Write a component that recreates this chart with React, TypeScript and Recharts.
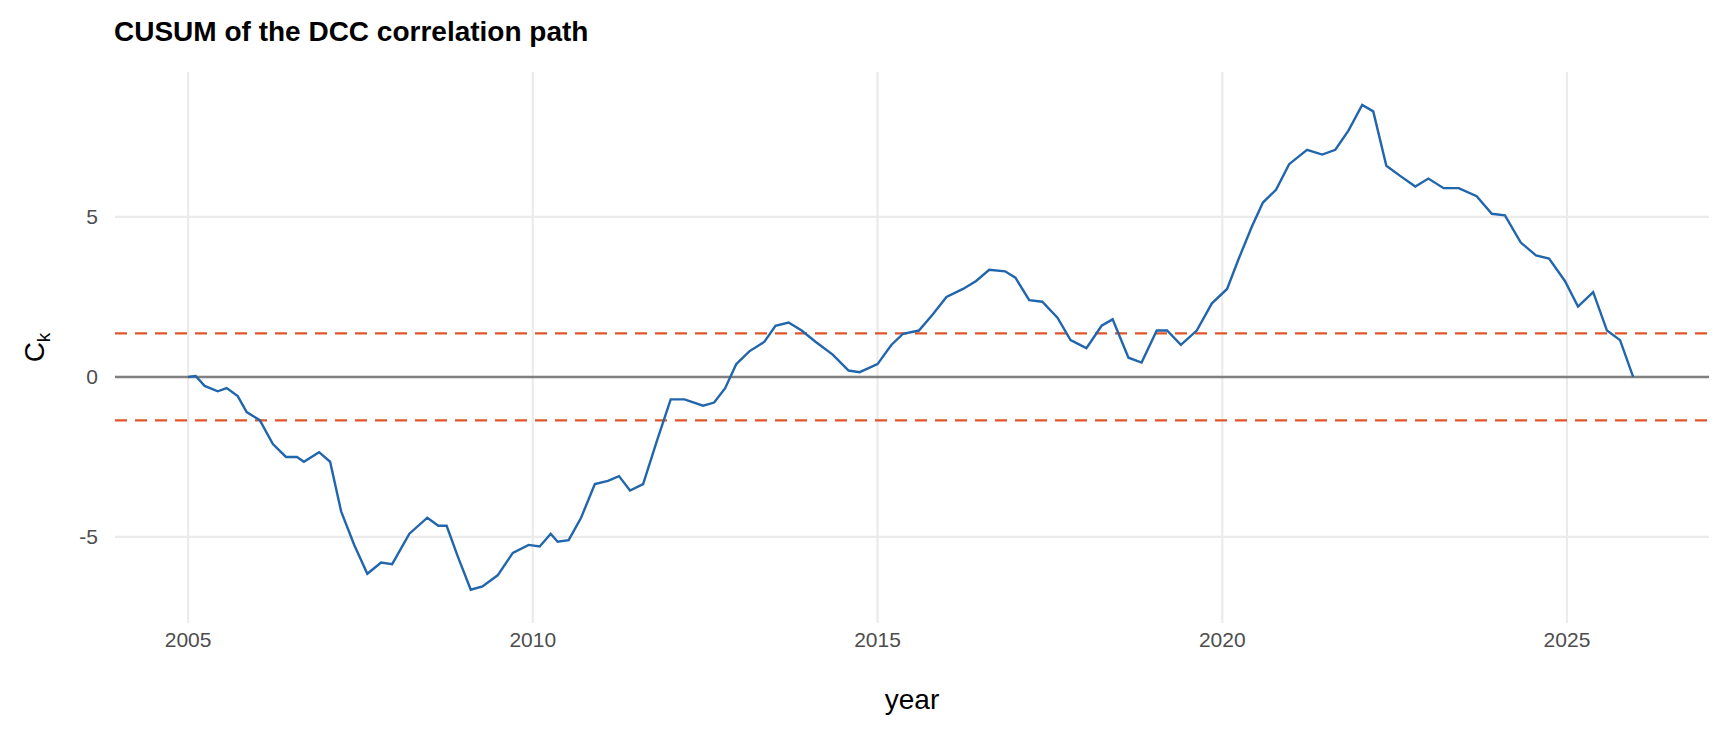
import React from "react";
import { LineChart, Line, XAxis, YAxis, CartesianGrid, ReferenceLine } from "recharts";

const years = [2005.0,2005.11,2005.24,2005.43,2005.56,2005.72,2005.85,2006.04,2006.23,2006.42,2006.58,2006.68,2006.9,2007.06,2007.22,2007.41,2007.6,2007.8,2007.96,2008.21,2008.47,2008.63,2008.75,2008.91,2009.1,2009.27,2009.49,2009.71,2009.94,2010.1,2010.26,2010.36,2010.52,2010.7,2010.9,2011.09,2011.25,2011.41,2011.6,2011.8,2012.0,2012.2,2012.47,2012.63,2012.79,2012.95,2013.14,2013.36,2013.52,2013.71,2013.9,2014.1,2014.35,2014.58,2014.74,2015.0,2015.2,2015.37,2015.6,2015.8,2016.0,2016.24,2016.43,2016.62,2016.85,2017.0,2017.2,2017.39,2017.61,2017.8,2018.03,2018.25,2018.41,2018.64,2018.83,2019.05,2019.2,2019.4,2019.63,2019.85,2020.07,2020.24,2020.43,2020.59,2020.78,2020.97,2021.23,2021.45,2021.64,2021.83,2022.03,2022.19,2022.38,2022.57,2022.8,2022.99,2023.21,2023.43,2023.69,2023.91,2024.1,2024.33,2024.55,2024.74,2024.97,2025.16,2025.38,2025.58,2025.77,2025.96];
const ck = [0,0.03,-0.28,-0.45,-0.35,-0.6,-1.1,-1.35,-2.1,-2.5,-2.5,-2.65,-2.35,-2.65,-4.2,-5.25,-6.15,-5.8,-5.85,-4.9,-4.4,-4.65,-4.65,-5.6,-6.65,-6.55,-6.2,-5.5,-5.25,-5.3,-4.9,-5.15,-5.1,-4.4,-3.35,-3.25,-3.1,-3.55,-3.35,-2.0,-0.7,-0.7,-0.9,-0.8,-0.35,0.4,0.8,1.1,1.6,1.7,1.45,1.1,0.7,0.2,0.15,0.4,1.0,1.35,1.45,1.95,2.5,2.75,3.0,3.35,3.3,3.1,2.4,2.35,1.85,1.15,0.9,1.6,1.8,0.6,0.45,1.45,1.45,1.0,1.45,2.3,2.75,3.7,4.7,5.45,5.85,6.65,7.1,6.95,7.1,7.7,8.5,8.3,6.6,6.3,5.95,6.2,5.9,5.9,5.65,5.1,5.05,4.2,3.8,3.7,3.0,2.2,2.65,1.45,1.15,0];
const xTicks = [2005, 2010, 2015, 2020, 2025];
const yTicks = [-5, 0, 5];
const threshold = 1.36;

const data = years.map((y, i) => ({ year: y, ck: ck[i] }));
const font = "'Liberation Sans', Arial, sans-serif";

export default function App() {
  return (
    <div style={{ position: "absolute", left: 0, top: 0, width: 1728, height: 729, background: "#fff", fontFamily: font }}>
      <div style={{ position: "absolute", left: 114, top: 16, fontSize: 28, fontWeight: "bold", color: "#000" }}>
        CUSUM of the DCC correlation path
      </div>
      <LineChart width={1728} height={729} data={data} margin={{ top: 72, right: 19, left: 0, bottom: 0 }}>
        <CartesianGrid stroke="#ebebeb" strokeWidth={2.2} horizontalValues={yTicks} verticalValues={xTicks} />
        <XAxis dataKey="year" type="number" domain={[2003.94, 2027.06]} ticks={xTicks} allowDataOverflow
          axisLine={false} tickLine={false} tickSize={0} tickMargin={9} height={106}
          tick={{ fill: "#4d4d4d", fontSize: 21, fontFamily: font }}
          label={{ value: "year", position: "insideBottom", offset: 20, fill: "#000", fontSize: 28, fontFamily: font }} />
        <YAxis type="number" domain={[-7.69, 9.53]} ticks={yTicks} allowDataOverflow width={115}
          axisLine={false} tickLine={false} tickSize={0} tickMargin={17}
          tick={{ fill: "#4d4d4d", fontSize: 21, fontFamily: font }}
          label={{
            content: (p: any) => {
              const vb = p.viewBox || {};
              const cy = vb.y + vb.height / 2;
              return (
                <text transform={`translate(44, ${cy}) rotate(-90)`} textAnchor="middle" fontSize={28} fontFamily={font} fill="#000">
                  <tspan>C</tspan>
                  <tspan fontSize={19} dy={6}>k</tspan>
                </text>
              );
            },
          }} />
        <ReferenceLine y={0} stroke="#808080" strokeWidth={2.4} />
        <ReferenceLine y={threshold} stroke="#e0562a" strokeWidth={2.2} strokeDasharray="12 8" />
        <ReferenceLine y={-threshold} stroke="#e0562a" strokeWidth={2.2} strokeDasharray="12 8" />
        <Line type="linear" dataKey="ck" stroke="#2166ac" strokeWidth={2.4} dot={false} isAnimationActive={false} />
      </LineChart>
    </div>
  );
}
